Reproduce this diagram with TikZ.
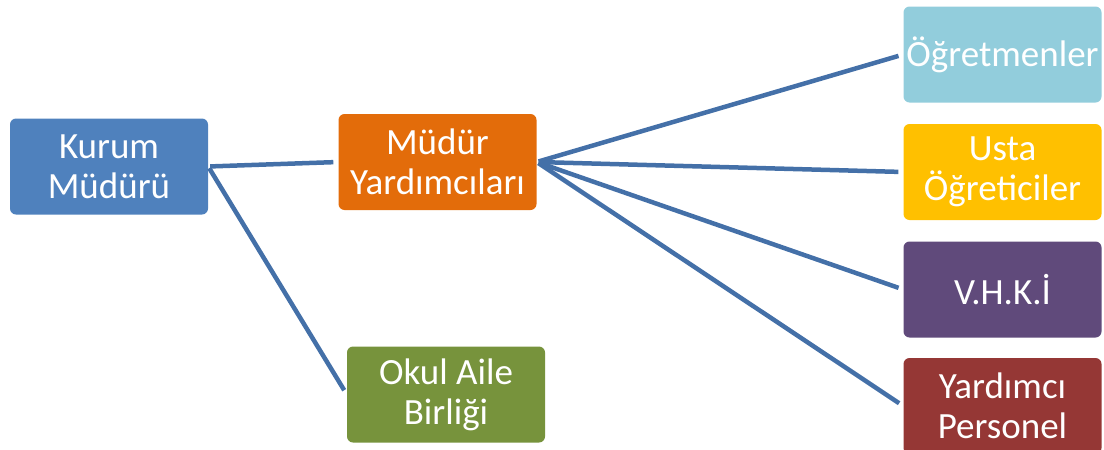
\documentclass[tikz,border=0pt]{standalone}
\usepackage{fontspec}
\setmainfont{Carlito}
\definecolor{kurumblue}{HTML}{4F81BD}
\definecolor{mudurorange}{HTML}{E36C0A}
\definecolor{ogretmenblue}{HTML}{92CDDC}
\definecolor{ustayellow}{HTML}{FFC000}
\definecolor{vhkipurple}{HTML}{604A7B}
\definecolor{personelred}{HTML}{953735}
\definecolor{okulgreen}{HTML}{77933C}
\definecolor{linkblue}{HTML}{4470A8}
\tikzset{
  unit/.style={rounded corners=6pt,text=white,align=center,inner sep=1pt,
    minimum width=198pt,minimum height=96pt,
    font=\fontsize{37}{40}\selectfont},
  link/.style={linkblue,line width=4.5pt,shorten >=5pt,shorten <=2pt}
}
\begin{document}
\begin{tikzpicture}[x=1pt,y=-1pt]
  \useasboundingbox (0,0) rectangle (1104,450);
  % boxes
  \node [unit,fill=kurumblue]    (kurum)    at (109,166.5) {Kurum\\Müdürü};
  \node [unit,fill=mudurorange]  (yard)     at (437.5,162) {Müdür\\Yardımcıları};
  \node [unit,fill=okulgreen]    (okul)     at (446,394.5) {Okul Aile\\Birliği};
  \node [unit,fill=ogretmenblue] (ogret)    at (1002.5,54.5) {Öğretmenler};
  \node [unit,fill=ustayellow]   (usta)     at (1002.5,172) {Usta\\Öğreticiler};
  \node [unit,fill=vhkipurple]   (vhki)     at (1002.5,289.5) {V.H.K.İ};
  \node [unit,fill=personelred]  (personel) at (1002.5,406) {Yardımcı\\Personel};
  % links
  \draw [link] (kurum.east) -- (yard.west);
  \draw [link] (kurum.east) -- (okul.west);
  \draw [link] (yard.east) -- (ogret.west);
  \draw [link] (yard.east) -- (usta.west);
  \draw [link] (yard.east) -- (vhki.west);
  \draw [link] (yard.east) -- (personel.west);
\end{tikzpicture}
\end{document}
